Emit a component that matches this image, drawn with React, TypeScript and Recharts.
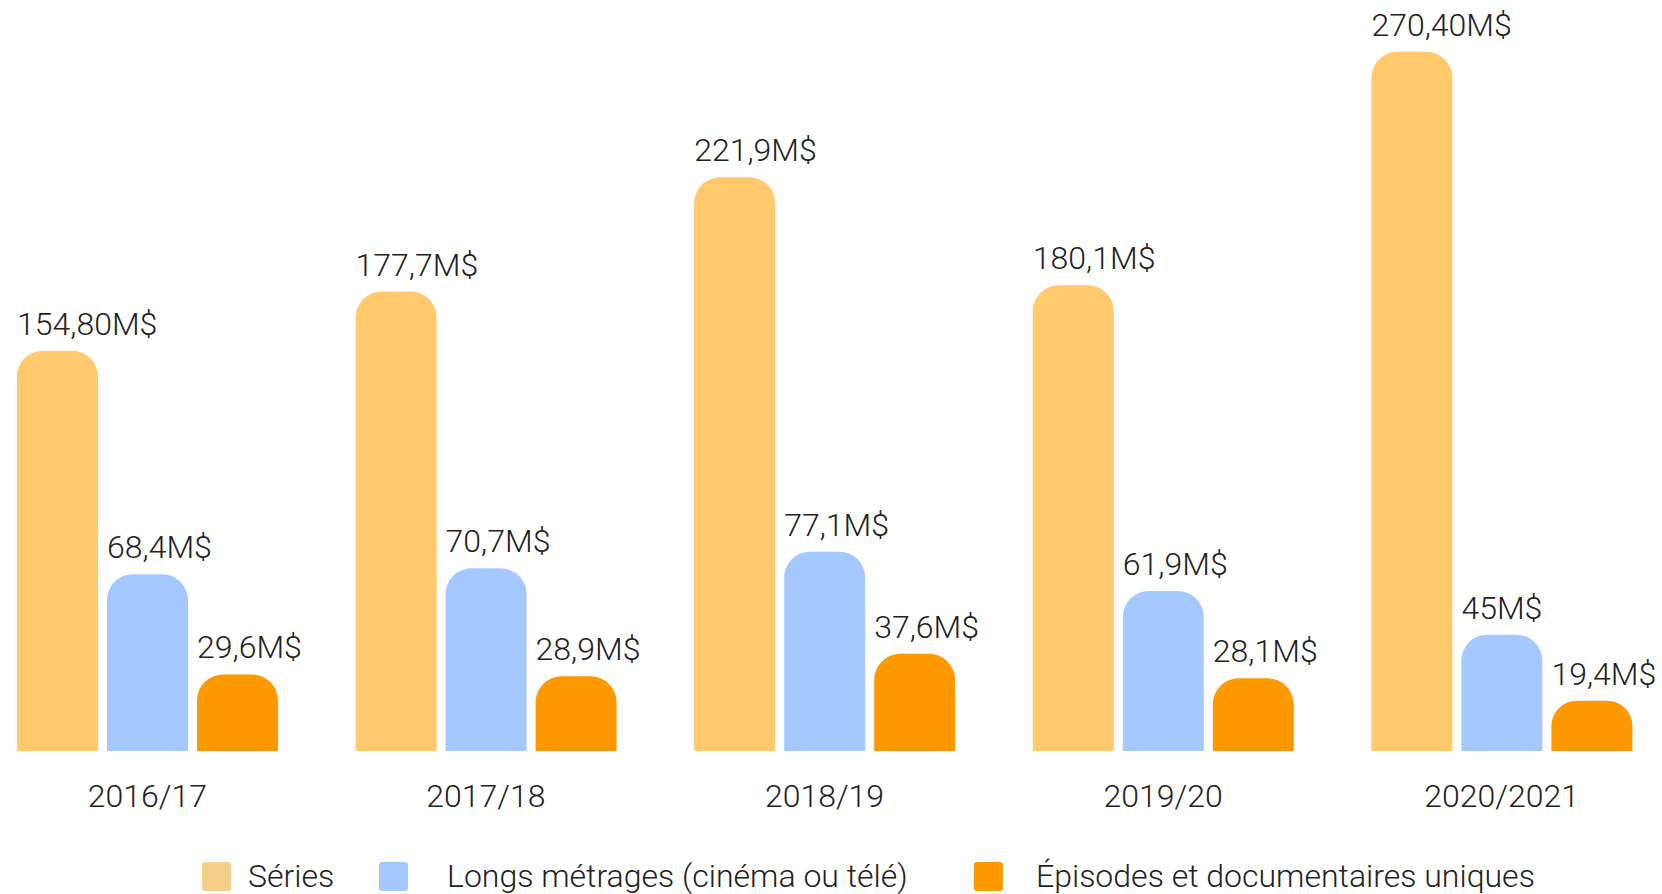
import { BarChart, Bar, XAxis, YAxis, LabelList, Legend } from "recharts";

const categories = ["2016/17", "2017/18", "2018/19", "2019/20", "2020/2021"];
const series = [154.8, 177.7, 221.9, 180.1, 270.4];
const longs = [68.4, 70.7, 77.1, 61.9, 45];
const episodes = [29.6, 28.9, 37.6, 28.1, 19.4];
const seriesLabels = ["154,80M$", "177,7M$", "221,9M$", "180,1M$", "270,40M$"];
const longsLabels = ["68,4M$", "70,7M$", "77,1M$", "61,9M$", "45M$"];
const episodesLabels = ["29,6M$", "28,9M$", "37,6M$", "28,1M$", "19,4M$"];

const legendItems = [
  { name: "Séries", color: "#F6CF88" },
  { name: "Longs métrages (cinéma ou télé)", color: "#A4C8FF" },
  { name: "Épisodes et documentaires uniques", color: "#FF9900" },
];

const data = categories.map((name, i) => ({
  name,
  series: series[i],
  longs: longs[i],
  episodes: episodes[i],
  seriesLabel: seriesLabels[i],
  longsLabel: longsLabels[i],
  episodesLabel: episodesLabels[i],
}));

const FONT = "Roboto, sans-serif";
const TEXT = "#222222";
const FS = 32;

// x offsets of legend squares / text inside the chart (chart is shifted 22px left)
const legendSquareX = [224, 401, 996];
const legendTextX = [270, 469, 1058];

const renderLabel = (props: any) => {
  const { x, y, value } = props;
  return (
    <text x={x} y={y - 16} fill={TEXT} fontSize={FS} fontWeight={300} fontFamily={FONT} textAnchor="start">
      {value}
    </text>
  );
};

const renderLegend = () => (
  <div style={{ position: "relative", height: 30, fontFamily: FONT }}>
    {legendItems.map((item, i) => (
      <div key={item.name}>
        <div
          style={{
            position: "absolute",
            left: legendSquareX[i],
            top: 0,
            width: 29,
            height: 29,
            borderRadius: 3,
            background: item.color,
          }}
        />
        <div
          style={{
            position: "absolute",
            left: legendTextX[i],
            top: -4,
            fontSize: FS,
            fontWeight: 300,
            color: TEXT,
            whiteSpace: "nowrap",
            lineHeight: "36px",
          }}
        >
          {item.name}
        </div>
      </div>
    ))}
  </div>
);

export default function App() {
  return (
    <div
      style={{
        position: "absolute",
        left: 0,
        top: 0,
        width: 1662,
        height: 894,
        overflow: "hidden",
        background: "#ffffff",
      }}
    >
      <div style={{ marginLeft: -22 }}>
        <BarChart
          width={1693}
          height={894}
          data={data}
          margin={{ top: 27, right: 0, bottom: 83, left: 0 }}
          barGap={9}
          barSize={81}
        >
          <XAxis
            dataKey="name"
            axisLine={false}
            tickLine={false}
            height={60}
            tickMargin={27}
            tick={{ fontSize: FS, fill: TEXT, fontWeight: 300, fontFamily: FONT }}
            interval={0}
          />
          <YAxis hide domain={[0, 280]} />
          <Legend
            verticalAlign="middle"
            align="center"
            content={renderLegend}
            wrapperStyle={{ top: 862, left: 0, width: 1693 }}
          />
          <Bar dataKey="series" fill="#FFC96C" radius={[26, 26, 0, 0]} isAnimationActive={false}>
            <LabelList dataKey="seriesLabel" content={renderLabel} />
          </Bar>
          <Bar dataKey="longs" fill="#A4C8FF" radius={[26, 26, 0, 0]} isAnimationActive={false}>
            <LabelList dataKey="longsLabel" content={renderLabel} />
          </Bar>
          <Bar dataKey="episodes" fill="#FF9900" radius={[26, 26, 0, 0]} isAnimationActive={false}>
            <LabelList dataKey="episodesLabel" content={renderLabel} />
          </Bar>
        </BarChart>
      </div>
    </div>
  );
}
